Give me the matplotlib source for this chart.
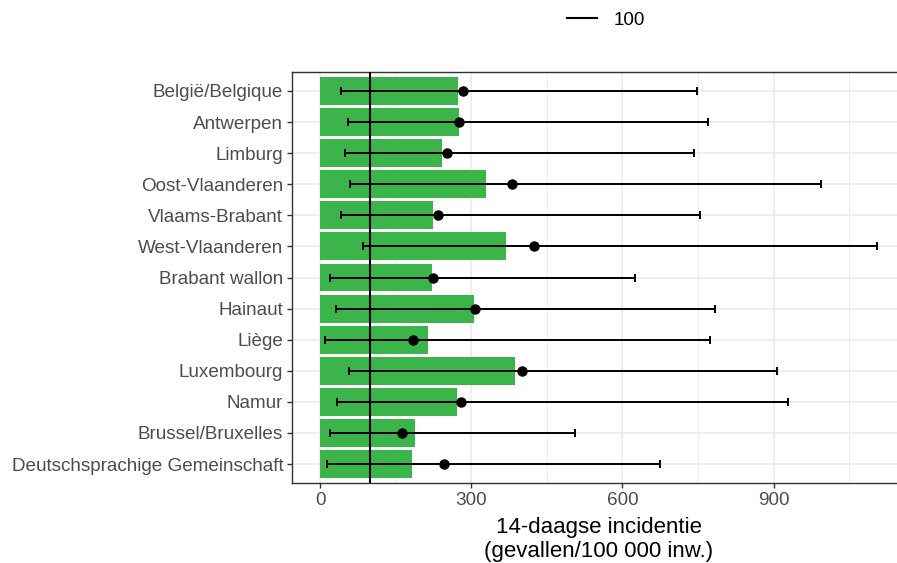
import matplotlib
matplotlib.use("Agg")
import matplotlib.pyplot as plt
from matplotlib.ticker import MultipleLocator

plt.rcParams["font.family"] = ["Liberation Sans", "DejaVu Sans"]

provinces = ["België/Belgique", "Antwerpen", "Limburg", "Oost-Vlaanderen",
             "Vlaams-Brabant", "West-Vlaanderen", "Brabant wallon", "Hainaut",
             "Liège", "Luxembourg", "Namur", "Brussel/Bruxelles",
             "Deutschsprachige Gemeinschaft"]
incidence = [274, 276, 241, 329, 225, 368, 222, 305, 214, 386, 272, 188, 183]
estimate = [284, 275, 251, 381, 234, 424, 225, 308, 185, 401, 279, 163, 245]
lower = [42, 56, 50, 60, 42, 85, 20, 31, 10, 58, 33, 20, 14]
upper = [747, 769, 742, 993, 754, 1105, 624, 783, 773, 907, 928, 505, 674]
threshold = 100

W, H = 897, 563
fig = plt.figure(figsize=(W / 100, H / 100), dpi=100)
left, right, top, bottom = 292.2, 904.8, 72.3, 482.7
ax = fig.add_axes([left / W, 1 - bottom / H, (right - left) / W, (bottom - top) / H])

ypos = list(range(1, len(provinces) + 1))
ax.barh(ypos, incidence, height=0.9, color="#3BB54A", zorder=2)
ax.axvline(threshold, color="black", linewidth=1.5, zorder=3, label=str(threshold))
err_lo = [e - l for e, l in zip(estimate, lower)]
err_hi = [u - e for e, u in zip(estimate, upper)]
ax.errorbar(estimate, ypos, xerr=[err_lo, err_hi], fmt="o", color="black",
            markersize=6.5, elinewidth=1.4, capsize=3, capthick=1.4, zorder=4)

ax.set_xlim(-55.25, 1160.25)
ax.set_ylim(len(provinces) + 0.6, 0.4)
ax.set_yticks(ypos)
ax.set_yticklabels(provinces)
ax.xaxis.set_major_locator(MultipleLocator(300))
ax.xaxis.set_minor_locator(MultipleLocator(150))
ax.grid(which="major", color="#EBEBEB", linewidth=1.2, zorder=0)
ax.grid(which="minor", axis="x", color="#EEEEEE", linewidth=0.8, zorder=0)
ax.set_axisbelow(True)
ax.tick_params(axis="both", which="major", length=3.5, width=1, color="#333333",
               labelsize=13.6, labelcolor="#4D4D4D", pad=3)
ax.tick_params(axis="x", which="minor", length=0)
for s in ax.spines.values():
    s.set_color("#333333")
    s.set_linewidth(1.0)

# x-axis title, two lines centred under the panel
xc = 598.5 / W
fig.text(xc, 1 - 533 / H, "14-daagse incidentie", ha="center", va="baseline",
         fontsize=16)
fig.text(xc, 1 - 557 / H, "(gevallen/100 000 inw.)", ha="center", va="baseline",
         fontsize=16)
fig.legend(loc="center", bbox_to_anchor=(606 / W, 1 - 20 / H), frameon=False,
           fontsize=13.5, handlelength=1.6, handletextpad=0.9)

fig.savefig("out.png", dpi=100)
